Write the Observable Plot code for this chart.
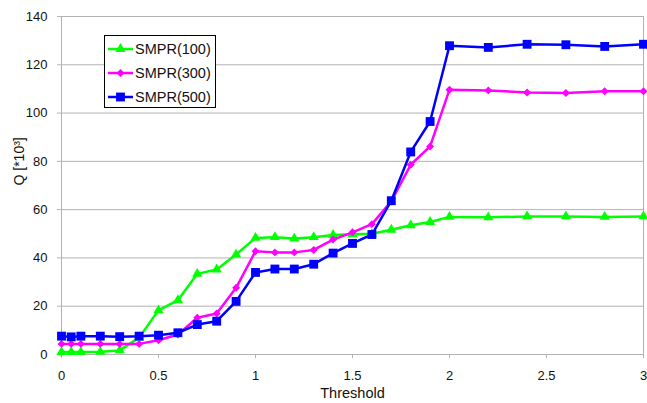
<!DOCTYPE html>
<html>
<head>
<meta charset="utf-8">
<script src="https://cdn.jsdelivr.net/npm/d3@7"></script>
<script src="https://cdn.jsdelivr.net/npm/@observablehq/plot@0.6"></script>
<style>
  html, body { margin: 0; padding: 0; background: #fff; }
  #wrap { position: relative; width: 647px; height: 403px; }
  #legend { position: absolute; left: 0; top: 0; }
</style>
</head>
<body>
<div id="wrap"></div>
<script>
const thresholds = [0, 0.05, 0.1, 0.2, 0.3, 0.4, 0.5, 0.6, 0.7, 0.8, 0.9, 1.0, 1.1, 1.2, 1.3, 1.4, 1.5, 1.6, 1.7, 1.8, 1.9, 2.0, 2.2, 2.4, 2.6, 2.8, 3.0];
const smpr100 = [1, 1, 1, 1.1, 1.7, 7, 18.3, 22.5, 33.4, 35.2, 41.4, 48.3, 48.6, 48, 48.6, 49.5, 49.8, 50, 51.7, 53.5, 54.9, 57, 56.8, 57.2, 57.2, 57, 57.2];
const smpr300 = [4.4, 4.4, 4.4, 4.4, 4.4, 4.4, 5.9, 8.3, 15.2, 17, 27.6, 42.8, 42.3, 42.3, 43.3, 47.6, 50.6, 54, 63.4, 78.6, 86.2, 109.7, 109.4, 108.5, 108.3, 109, 109];
const smpr500 = [7.6, 7.3, 7.6, 7.6, 7.4, 7.6, 8, 9, 12.4, 13.8, 22, 34, 35.4, 35.4, 37.4, 42, 46, 49.7, 63.7, 83.9, 96.5, 127.9, 127.2, 128.5, 128.3, 127.6, 128.5];
const seriesNames = ["SMPR(100)", "SMPR(300)", "SMPR(500)"];
const seriesColors = ["#00ff00", "#ff00ff", "#0000ff"];
const seriesSymbols = ["triangle", "diamond2", "square"];
const seriesR = [3.8, 3.6, 5];
const xTicks = [0, 0.5, 1, 1.5, 2, 2.5, 3];
const yTicks = [0, 20, 40, 60, 80, 100, 120, 140];
const xTitle = "Threshold";
const yTitle = "Q [*10³]";

const allValues = [smpr100, smpr300, smpr500];
const series = allValues.map((vals, i) => thresholds.map((t, j) => ({x: t, y: vals[j], s: seriesNames[i]})));

const gray = "#b3b3b3";
const marks = [
  Plot.ruleY(yTicks, {stroke: gray, strokeWidth: 1}),
  Plot.ruleX([3], {stroke: gray, strokeWidth: 1}),
  Plot.ruleX([0], {stroke: gray, strokeWidth: 1}),
  Plot.axisX({ticks: xTicks, tickSize: 4, tickPadding: 12, stroke: gray, label: null, tickFormat: d => String(d)}),
  Plot.axisY({ticks: yTicks, tickSize: 4, tickPadding: 10, stroke: gray, label: null}),
  Plot.text([xTitle], {frameAnchor: "bottom", dy: 39, fontSize: 14.5, text: d => d, lineAnchor: "middle"}),
  Plot.text([yTitle], {frameAnchor: "left", dx: -42, rotate: -90, fontSize: 14, text: d => d})
];
series.forEach((data, i) => {
  marks.push(Plot.line(data, {x: "x", y: "y", stroke: seriesColors[i], strokeWidth: 2.5}));
  marks.push(Plot.dot(data, {x: "x", y: "y", symbol: seriesSymbols[i], r: seriesR[i], fill: seriesColors[i], stroke: "none"}));
});

const chart = Plot.plot({
  width: 647,
  height: 403,
  marginLeft: 61,
  marginRight: 4,
  marginTop: 16,
  marginBottom: 49,
  x: {domain: [0, 3]},
  y: {domain: [0, 140]},
  style: {fontFamily: "'Liberation Sans', Arial, sans-serif", fontSize: "13px", color: "#111", background: "#fff"},
  marks
});
document.getElementById("wrap").appendChild(chart);

// Legend overlay
const leg = d3.select("#wrap").append("svg").attr("id", "legend").attr("width", 647).attr("height", 403);
leg.append("rect").attr("x", 104.5).attr("y", 35.5).attr("width", 111).attr("height", 72)
  .attr("fill", "#fff").attr("stroke", "#000").attr("stroke-width", 1);
const symMap = {triangle: d3.symbolTriangle, diamond2: d3.symbolDiamond2, square: d3.symbolSquare};
seriesNames.forEach((name, i) => {
  const cy = 49 + i * 24;
  const g = leg.append("g");
  g.append("line").attr("x1", 108).attr("x2", 133).attr("y1", cy).attr("y2", cy)
    .attr("stroke", seriesColors[i]).attr("stroke-width", 2.5);
  g.append("path").attr("transform", `translate(120.5,${cy})`)
    .attr("d", d3.symbol(symMap[seriesSymbols[i]], Math.PI * seriesR[i] * seriesR[i])())
    .attr("fill", seriesColors[i]);
  g.append("text").attr("x", 135).attr("y", cy).attr("dy", "0.36em")
    .attr("font-family", "'Liberation Sans', Arial, sans-serif").attr("font-size", 14.5)
    .attr("fill", "#111").text(name);
});
</script>
</body>
</html>
